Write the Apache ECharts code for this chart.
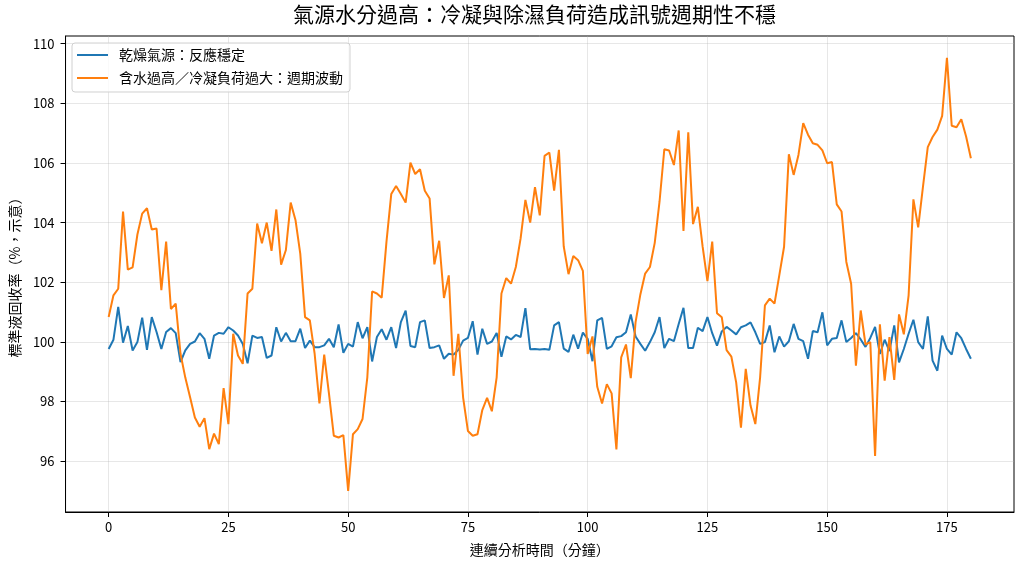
<!DOCTYPE html>
<html>
<head>
<meta charset="utf-8">
<script src="https://cdn.jsdelivr.net/npm/echarts@6.0.0/dist/echarts.min.js"></script>
<style>
  html, body { margin: 0; padding: 0; background: #fff; }
  #chart { width: 1024px; height: 569px; }
</style>
</head>
<body>
<div id="chart"></div>
<script>
// 時間軸（分鐘）
var minutes = [];
for (var m = 0; m <= 180; m++) minutes.push(m);

// 乾燥氣源：反應穩定
var dryGas = [
  99.76, 100.07, 101.17, 99.97, 100.53, 99.71, 99.99, 100.81, 99.73, 100.83,
  100.33, 99.76, 100.33, 100.46, 100.29, 99.32, 99.71, 99.93, 100.01, 100.29,
  100.10, 99.43, 100.21, 100.30, 100.27, 100.49, 100.38, 100.21, 99.93, 99.28,
  100.21, 100.13, 100.16, 99.46, 99.54, 100.49, 100.01, 100.30, 100.02, 100.02,
  100.44, 99.79, 100.04, 99.82, 99.82, 99.88, 100.10, 99.82, 100.58, 99.63,
  99.93, 99.84, 100.66, 100.12, 100.49, 99.34, 100.16, 100.42, 100.07, 100.49,
  99.79, 100.66, 101.05, 99.86, 99.82, 100.66, 100.72, 99.79, 99.82, 99.88,
  99.43, 99.60, 99.57, 99.73, 100.04, 100.13, 100.69, 99.57, 100.44, 99.93,
  100.01, 100.30, 99.50, 100.18, 100.08, 100.23, 100.16, 101.13, 99.75, 99.76,
  99.74, 99.76, 99.73, 100.55, 100.66, 99.77, 99.66, 100.24, 99.77, 100.31,
  100.10, 99.35, 100.72, 100.80, 99.76, 99.85, 100.15, 100.19, 100.32, 100.92,
  100.18, 99.93, 99.70, 99.99, 100.32, 100.83, 99.79, 100.10, 100.02, 100.60,
  101.14, 99.79, 99.79, 100.47, 100.36, 100.83, 100.29, 99.87, 100.35, 100.50,
  100.38, 100.25, 100.49, 100.55, 100.65, 100.32, 99.93, 99.99, 100.55, 99.65,
  100.18, 99.84, 100.02, 100.60, 100.10, 100.02, 99.43, 100.36, 100.32, 100.99,
  99.88, 100.10, 100.13, 100.72, 99.99, 100.13, 100.29, 100.08, 99.83, 100.13,
  100.50, 99.59, 100.07, 99.69, 100.55, 99.31, 99.76, 100.27, 100.74, 99.99,
  99.76, 100.85, 99.37, 99.03, 100.21, 99.76, 99.57, 100.32, 100.12, 99.76,
  99.43
];

// 含水過高／冷凝負荷過大：週期波動
var wetGas = [
  100.83, 101.56, 101.78, 104.37, 102.42, 102.50, 103.60, 104.30, 104.48, 103.77,
  103.80, 101.73, 103.36, 101.10, 101.28, 99.60, 98.80, 98.14, 97.46, 97.15,
  97.44, 96.40, 96.92, 96.57, 98.45, 97.24, 100.27, 99.54, 99.26, 101.62,
  101.78, 103.97, 103.31, 104.00, 103.05, 104.44, 102.59, 103.08, 104.67, 104.09,
  102.96, 100.83, 100.72, 99.60, 97.93, 99.57, 98.25, 96.85, 96.79, 96.87,
  95.00, 96.90, 97.07, 97.41, 98.81, 101.69, 101.62, 101.48, 103.36, 104.96,
  105.23, 104.96, 104.67, 106.01, 105.63, 105.79, 105.07, 104.81, 102.60, 103.39,
  101.47, 102.23, 98.86, 100.27, 98.13, 97.01, 96.85, 96.90, 97.71, 98.12,
  97.67, 98.81, 101.62, 102.14, 101.95, 102.51, 103.47, 104.76, 104.00, 105.19,
  104.24, 106.24, 106.35, 105.07, 106.44, 103.20, 102.27, 102.88, 102.74, 102.38,
  99.59, 100.18, 98.49, 97.93, 98.58, 98.27, 96.39, 99.48, 99.91, 98.78,
  100.66, 101.59, 102.29, 102.51, 103.32, 104.70, 106.46, 106.42, 105.93, 107.09,
  103.72, 107.03, 103.95, 104.53, 103.19, 102.04, 103.36, 100.96, 100.82, 99.72,
  99.50, 98.64, 97.12, 99.09, 97.86, 97.24, 98.81, 101.22, 101.45, 101.28,
  102.23, 103.19, 106.29, 105.60, 106.27, 107.34, 106.95, 106.66, 106.61, 106.42,
  105.99, 106.03, 104.61, 104.37, 102.68, 101.95, 99.20, 101.05, 99.91, 99.99,
  96.17, 100.59, 98.70, 100.16, 98.72, 100.92, 100.25, 101.56, 104.78, 103.84,
  105.21, 106.53, 106.87, 107.12, 107.58, 109.53, 107.25, 107.20, 107.47, 106.89,
  106.16
];

var xTicks = [0, 25, 50, 75, 100, 125, 150, 175];
var yTicks = [96, 98, 100, 102, 104, 106, 108, 110];

var seriesNames = ['乾燥氣源：反應穩定', '含水過高／冷凝負荷過大：週期波動'];
var seriesColors = ['#1f77b4', '#ff7f0e'];

var FONT = '"Noto Sans CJK TC", "Noto Sans CJK SC", "DejaVu Sans", sans-serif';

function pairs(ys) {
  return minutes.map(function (t, i) { return [t, ys[i]]; });
}

var chart = echarts.init(document.getElementById('chart'), null, { renderer: 'canvas' });

var axisCommon = {
  axisLine: { show: true, onZero: false, lineStyle: { color: '#000', width: 1 } },
  axisTick: { show: true, inside: false, length: 5, lineStyle: { color: '#000', width: 1 } },
  splitLine: { show: true, lineStyle: { color: '#b0b0b0', opacity: 0.3, width: 1 } },
  nameLocation: 'middle',
  nameTextStyle: { color: '#000', fontSize: 14, fontFamily: FONT }
};

var option = {
  backgroundColor: '#fff',
  animation: false,
  textStyle: { fontFamily: FONT },
  title: {
    text: '氣源水分過高：冷凝與除濕負荷造成訊號週期性不穩',
    left: 293,
    top: 4,
    padding: 0,
    textStyle: { color: '#000', fontSize: 21, fontWeight: 'normal', fontFamily: FONT }
  },
  legend: {
    orient: 'vertical',
    left: 72,
    top: 43,
    padding: [5, 7, 7, 5],
    itemGap: 9,
    itemWidth: 31,
    itemHeight: 14,
    icon: 'path://M0,0 L31,0 L31,2 L0,2 Z',
    backgroundColor: 'rgba(255,255,255,0.8)',
    borderColor: '#d0d0d0',
    borderWidth: 1,
    borderRadius: 3,
    textStyle: { color: '#000', fontSize: 14, fontFamily: FONT, padding: [0, 0, 0, 6] },
    data: seriesNames
  },
  grid: {
    left: 65,
    right: 10,
    top: 36,
    bottom: 57,
    show: true,
    borderColor: '#000',
    borderWidth: 1,
    backgroundColor: 'transparent'
  },
  xAxis: Object.assign({}, axisCommon, {
    type: 'value',
    min: -9,
    max: 189,
    name: '連續分析時間（分鐘）',
    nameGap: 31,
    axisTick: Object.assign({}, axisCommon.axisTick, { customValues: xTicks }),
    axisLabel: { customValues: xTicks, color: '#000', fontSize: 13, margin: 9, fontFamily: FONT }
  }),
  yAxis: Object.assign({}, axisCommon, {
    type: 'value',
    min: 94.29,
    max: 110.26,
    name: '標準液回收率（%，示意）',
    nameGap: 40,
    axisTick: Object.assign({}, axisCommon.axisTick, { customValues: yTicks }),
    axisLabel: { customValues: yTicks, color: '#000', fontSize: 13, margin: 11, fontFamily: FONT }
  }),
  series: [
    {
      name: seriesNames[0],
      type: 'line',
      data: pairs(dryGas),
      symbol: 'none',
      color: seriesColors[0],
      lineStyle: { color: seriesColors[0], width: 2 },
      z: 3
    },
    {
      name: seriesNames[1],
      type: 'line',
      data: pairs(wetGas),
      symbol: 'none',
      color: seriesColors[1],
      lineStyle: { color: seriesColors[1], width: 2 },
      z: 4
    }
  ]
};

chart.setOption(option);
</script>
</body>
</html>
